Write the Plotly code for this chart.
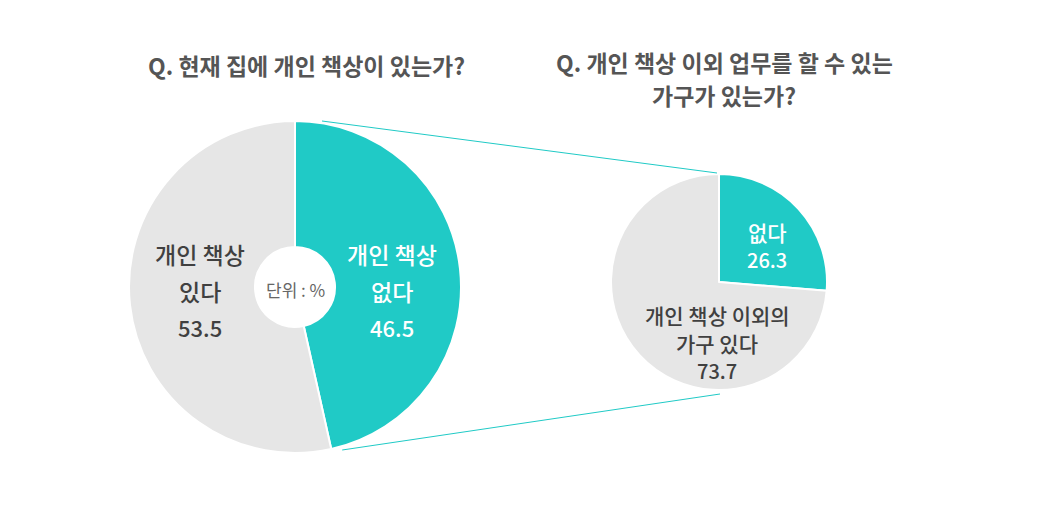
import math
import plotly.graph_objects as go

# ---- data ----
left_title = "Q. 현재 집에 개인 책상이 있는가?"
left_labels = ["개인 책상<br>없다", "개인 책상<br>있다"]
left_values = [46.5, 53.5]
unit_label = "단위 : %"

right_title = "Q. 개인 책상 이외 업무를 할 수 있는<br>가구가 있는가?"
right_labels = ["없다", "개인 책상 이외의<br>가구 있다"]
right_values = [26.3, 73.7]

TEAL = "#20CAC6"
GRAY = "#E6E6E6"
DARK = "#404040"
FONT = "Noto Sans CJK KR"

W, H = 1060, 505
OFF = 8  # page body margin


def px(x):
    return (x - OFF) / W


def py(y):
    return 1 - (y - OFF) / H


# pie geometry (pixels)
L_CX, L_CY, L_R = 295, 287, 166
R_CX, R_CY, R_R = 719, 282, 108

fig = go.Figure()
fig.add_trace(go.Pie(
    values=left_values, labels=left_labels, sort=False, direction="clockwise",
    rotation=0, hole=40 / L_R,
    marker=dict(colors=[TEAL, GRAY], line=dict(color="white", width=2)),
    textinfo="none", hoverinfo="skip", showlegend=False,
    domain=dict(x=[px(L_CX - L_R), px(L_CX + L_R)], y=[py(L_CY + L_R), py(L_CY - L_R)]),
))
fig.add_trace(go.Pie(
    values=right_values, labels=right_labels, sort=False, direction="clockwise",
    rotation=0,
    marker=dict(colors=[TEAL, GRAY], line=dict(color="white", width=2)),
    textinfo="none", hoverinfo="skip", showlegend=False,
    domain=dict(x=[px(R_CX - R_R), px(R_CX + R_R)], y=[py(R_CY + R_R), py(R_CY - R_R)]),
))

ann = []


def add_lines(lines, cx, ys, sizes, color, weight=500):
    for line, y, s in zip(lines, ys, sizes):
        ann.append(dict(x=px(cx), y=py(y), xref="paper", yref="paper", text=line,
                        showarrow=False, xanchor="center", yanchor="middle",
                        font=dict(family=FONT, size=s, color=color, weight=weight)))


# titles
add_lines([left_title], 306, [65], [23], "#555555", weight="bold")
add_lines(right_title.split("<br>"), 724, [62, 95], [23, 23], "#555555", weight="bold")

# left labels
add_lines(left_labels[0].split("<br>") + [f"{left_values[0]}"], 392, [254, 291, 327], [23, 23, 22], "white")
add_lines(left_labels[1].split("<br>") + [f"{left_values[1]}"], 200, [254, 291, 327], [23, 23, 22], DARK)
add_lines([unit_label], L_CX, [289], [17], "#666666", weight="normal")

# right labels
add_lines(right_labels[0].split("<br>") + [f"{right_values[0]}"], 767, [232, 259], [21, 20], "white")
add_lines(right_labels[1].split("<br>") + [f"{right_values[1]}"], 717, [315, 343, 370], [21, 21, 20], DARK)

# connector lines from left slice boundaries to the right pie
a0 = 0.0
a1 = 2 * math.pi * left_values[0] / sum(left_values)
x0 = L_CX + L_R * math.sin(a0) + 27
y0 = L_CY - L_R * math.cos(a0)
x1 = L_CX + L_R * math.sin(a1) + 11
y1 = L_CY - L_R * math.cos(a1)
shapes = [
    dict(type="line", xref="paper", yref="paper", x0=px(x0), y0=py(y0), x1=px(R_CX - 2), y1=py(R_CY - R_R - 1),
         line=dict(color=TEAL, width=1)),
    dict(type="line", xref="paper", yref="paper", x0=px(x1), y0=py(y1 + 1), x1=px(R_CX + 1), y1=py(R_CY + R_R + 4),
         line=dict(color=TEAL, width=1)),
]

fig.update_layout(
    width=W, height=H, margin=dict(l=0, r=0, t=0, b=0),
    paper_bgcolor="white", plot_bgcolor="white",
    annotations=ann, shapes=shapes,
    font=dict(family=FONT),
)
fig.write_html("out.html")
